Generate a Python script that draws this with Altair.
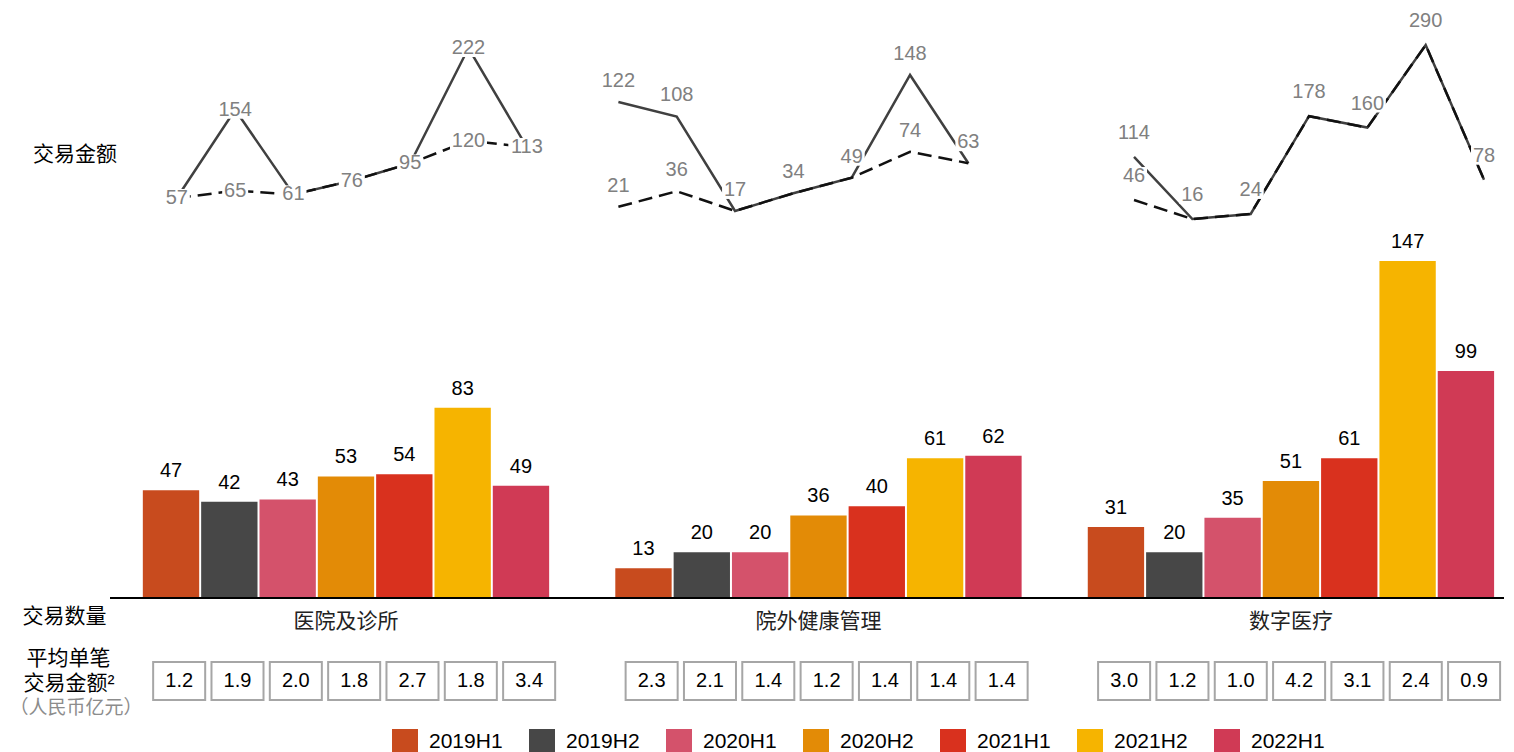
import altair as alt
import pandas as pd

# ---------------- data ----------------
groups = ["医院及诊所", "院外健康管理", "数字医疗"]
periods = ["2019H1", "2019H2", "2020H1", "2020H2", "2021H1", "2021H2", "2022H1"]
colors = ["#C84B1E", "#474747", "#D4526B", "#E38B06", "#D9311E", "#F6B400", "#D03A55"]

count_hospital = [47, 42, 43, 53, 54, 83, 49]
count_outside = [13, 20, 20, 36, 40, 61, 62]
count_digital = [31, 20, 35, 51, 61, 147, 99]

avg_hospital = [1.2, 1.9, 2.0, 1.8, 2.7, 1.8, 3.4]
avg_outside = [2.3, 2.1, 1.4, 1.2, 1.4, 1.4, 1.4]
avg_digital = [3.0, 1.2, 1.0, 4.2, 3.1, 2.4, 0.9]

amount_solid_hospital = [57, 154, 61, 76, 95, 222, 113]
amount_dashed_hospital = [57, 65, 61, 76, 95, 120, 113]
amount_solid_outside = [122, 108, 17, 34, 49, 148, 63]
amount_dashed_outside = [21, 36, 17, 34, 49, 74, 63]
amount_solid_digital = [114, 16, 24, 178, 160, 290, 78]
amount_dashed_digital = [46, 16, 24, 178, 160, 290, 78]

row_labels = ["交易金额", "交易数量", "平均单笔", "交易金额²", "（人民币亿元）"]

counts = [count_hospital, count_outside, count_digital]
avgs = [avg_hospital, avg_outside, avg_digital]
solids = [amount_solid_hospital, amount_solid_outside, amount_solid_digital]
dasheds = [amount_dashed_hospital, amount_dashed_outside, amount_dashed_digital]

GROUP_STEP = 8.1

bar_rows, avg_rows, amt_rows = [], [], []
for gi, g in enumerate(groups):
    for pi, p in enumerate(periods):
        pos = gi * GROUP_STEP + pi
        bar_rows.append({"gi": gi, "group": g, "period": p, "count": counts[gi][pi], "pos": pos})
        avg_rows.append({"gi": gi, "period": p, "avg": avgs[gi][pi], "pos": pos})
        amt_rows.append({"gi": gi, "period": p, "series": "solid", "value": solids[gi][pi], "pos": pos})
        amt_rows.append({"gi": gi, "period": p, "series": "dashed", "value": dasheds[gi][pi], "pos": pos})

bars_df = pd.DataFrame(bar_rows)
avg_df = pd.DataFrame(avg_rows)
amt_df = pd.DataFrame(amt_rows)
lab_df = amt_df.drop_duplicates(subset=["gi", "pos", "value"]).reset_index(drop=True)
cat_df = pd.DataFrame({"group": groups, "pos": [gi * GROUP_STEP + 3 for gi in range(len(groups))]})

# ---------------- styling ----------------
FONT = "'Liberation Sans', 'Noto Sans CJK SC', sans-serif"
PX_PER_UNIT = 58.33
xscale = alt.Scale(domain=[0, 22.2], range=[163, 163 + 22.2 * PX_PER_UNIT], nice=False, zero=False)
ybar = alt.Scale(domain=[0, 150], range=[590, 590 - 150 * 2.2925], nice=False, zero=False)

layers = []

# bars
bars = alt.Chart(bars_df).transform_calculate(
    x0="datum.pos - 0.483", x1="datum.pos + 0.483"
).mark_rect().encode(
    x=alt.X("x0:Q", scale=xscale, axis=None),
    x2="x1:Q",
    y=alt.Y("count:Q", scale=ybar, axis=None),
    y2=alt.datum(0),
    color=alt.Color(
        "period:N",
        scale=alt.Scale(domain=periods, range=colors),
        legend=alt.Legend(
            orient="none", legendX=384, legendY=721, direction="horizontal", title=None,
            symbolType="square", symbolSize=676, symbolStrokeWidth=0, symbolOpacity=1,
            labelFontSize=21, labelFont=FONT, labelColor="#000000", labelOffset=11,
            columnPadding=26, padding=0, offset=0, labelLimit=300,
        ),
    ),
)
layers.append(bars)

bar_text = alt.Chart(bars_df).mark_text(
    dy=-19, fontSize=20, font=FONT, color="#000000", baseline="middle"
).encode(
    x=alt.X("pos:Q", scale=xscale, axis=None),
    y=alt.Y("count:Q", scale=ybar, axis=None),
    text="count:Q",
)
layers.append(bar_text)

rule = alt.Chart(pd.DataFrame({"v": [0]})).mark_rule(color="#000000", strokeWidth=2).encode(
    x=alt.value(102), x2=alt.value(1506), y=alt.Y("v:Q", scale=ybar, axis=None)
)
layers.append(rule)

cat_text = alt.Chart(cat_df).mark_text(fontSize=21, font=FONT, color="#222222", baseline="middle").encode(
    x=alt.X("pos:Q", scale=xscale, axis=None), y=alt.value(614), text="group:N"
)
layers.append(cat_text)

# boxes of average deal size
boxes = alt.Chart(avg_df).transform_calculate(
    bx0="datum.pos + 0.14 - 0.446", bx1="datum.pos + 0.14 + 0.446"
).mark_rect(fill="#FFFFFF", stroke="#A6A6A6", strokeWidth=2).encode(
    x=alt.X("bx0:Q", scale=xscale, axis=None), x2="bx1:Q", y=alt.value(654), y2=alt.value(692)
)
layers.append(boxes)
box_text = alt.Chart(avg_df).transform_calculate(bc="datum.pos + 0.14").mark_text(
    fontSize=20, font=FONT, color="#000000", baseline="middle"
).encode(
    x=alt.X("bc:Q", scale=xscale, axis=None), y=alt.value(673), text=alt.Text("avg:Q", format=".1f")
)
layers.append(box_text)

# amount lines, one y scale per group
x_shift = [0.1, -0.43, 0.31]
y_ranges = [[241.8, -30.9], [220.6, -90.8], [221.2, 30.7]]
px_per_val = [0.909, 1.038, 0.635]
label_lift = [0, 21, 24]

for gi in range(3):
    ys = alt.Scale(domain=[0, 300], range=y_ranges[gi], nice=False, zero=False)
    k = px_per_val[gi]
    src = alt.Chart(amt_df).transform_filter(f"datum.gi == {gi}").transform_calculate(
        xl=f"datum.pos + {x_shift[gi]}"
    )
    solid = src.transform_filter("datum.series == 'solid'").mark_line(
        color="#404040", strokeWidth=2.5
    ).encode(x=alt.X("xl:Q", scale=xscale, axis=None), y=alt.Y("value:Q", scale=ys, axis=None))
    dashed = src.transform_filter("datum.series == 'dashed'").mark_line(
        color="#111111", strokeWidth=2.5, strokeDash=[14, 7]
    ).encode(x=alt.X("xl:Q", scale=xscale, axis=None), y=alt.Y("value:Q", scale=ys, axis=None))
    lab = alt.Chart(lab_df).transform_filter(f"datum.gi == {gi}").transform_calculate(
        xl=f"datum.pos + {x_shift[gi]}",
        yl=f"datum.value + {label_lift[gi] / k}",
    ).transform_calculate(
        y0=f"datum.yl - {9 / k}",
        y1=f"datum.yl + {9 / k}",
        hw=f"(length(toString(datum.value)) * 11 + 4) / 2 / {PX_PER_UNIT}",
    ).transform_calculate(
        bx0="datum.xl - datum.hw", bx1="datum.xl + datum.hw"
    )
    bg = lab.mark_rect(fill="#FFFFFF").encode(
        x=alt.X("bx0:Q", scale=xscale, axis=None), x2="bx1:Q",
        y=alt.Y("y0:Q", scale=ys, axis=None), y2="y1:Q",
    )
    txt = lab.mark_text(fontSize=20, font=FONT, color="#808080", baseline="middle").encode(
        x=alt.X("xl:Q", scale=xscale, axis=None),
        y=alt.Y("yl:Q", scale=ys, axis=None),
        text="value:Q",
    )
    layers += [solid, dashed, bg, txt]

# row labels at left
row_pos = [(67, 147, "#000000", 21), (56.5, 609, "#000000", 21), (60.5, 651, "#000000", 21),
           (61, 676, "#000000", 21), (68, 700, "#8C8C8C", 19)]
for t, (px, py, c, fs) in zip(row_labels, row_pos):
    layers.append(
        alt.Chart(pd.DataFrame({"t": [t]})).mark_text(
            fontSize=fs, font=FONT, color=c, baseline="middle", align="center"
        ).encode(x=alt.value(px), y=alt.value(py), text="t:N")
    )

chart = alt.layer(*layers).resolve_scale(y="independent").properties(
    width=1496, height=744, autosize=alt.AutoSizeParams(type="none"), padding=0
).configure_view(stroke=None)

chart.save("out.html", embed_options={"renderer": "svg", "actions": False})
